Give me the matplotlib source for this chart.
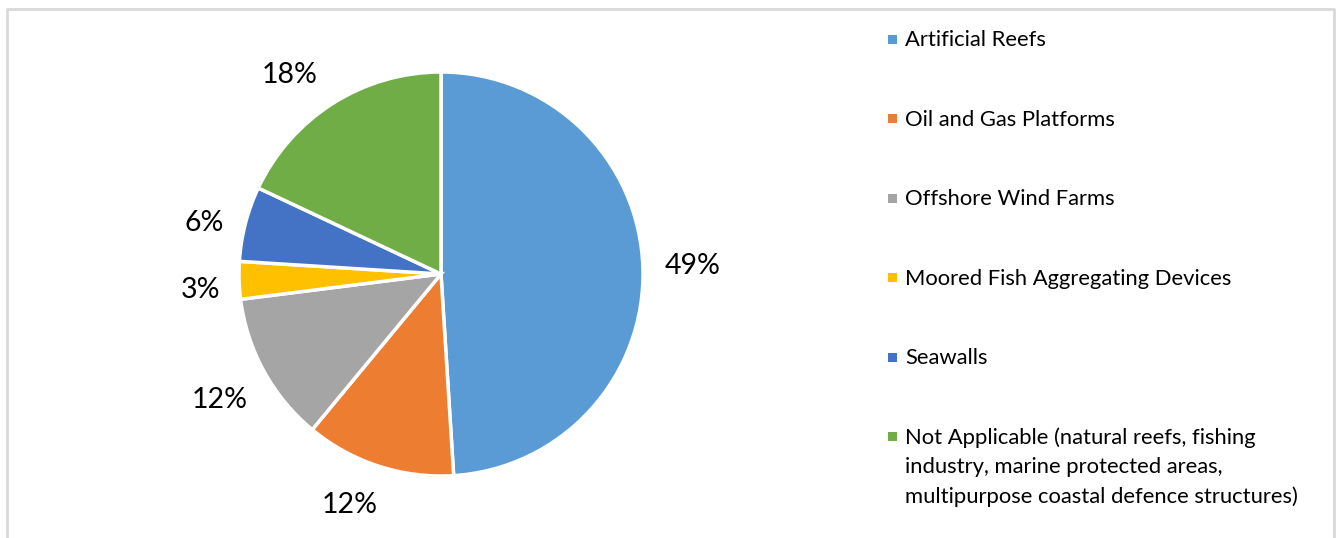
import matplotlib
matplotlib.use("Agg")
import matplotlib.pyplot as plt
from matplotlib.patches import Rectangle

labels = [
    "Artificial Reefs",
    "Oil and Gas Platforms",
    "Offshore Wind Farms",
    "Moored Fish Aggregating Devices",
    "Seawalls",
    "Not Applicable (natural reefs, fishing\nindustry, marine protected areas,\nmultipurpose coastal defence structures)",
]
shares = [49, 12, 12, 3, 6, 18]
colors = ["#5b9bd5", "#ed7d31", "#a5a5a5", "#ffc000", "#4472c4", "#70ad47"]

# pixel nudges for the outside percentage labels (right, down)
label_nudge = [(2, 0), (-14, -6), (-3, 6), (9, 8), (5, 11), (-18, 12)]

plt.rcParams["font.family"] = ["Lato", "DejaVu Sans"]

W, H = 1340, 538
fig = plt.figure(figsize=(W / 100, H / 100), dpi=100)
ax = fig.add_axes([0, 0, 1, 1])
ax.set_xlim(0, W)
ax.set_ylim(0, H)
ax.set_aspect("equal")
ax.axis("off")

# chart frame (bottom edge runs off the canvas)
ax.plot([7, 7, 1334, 1334], [0, H - 9, H - 9, 0], color="#d9d9d9", lw=2, solid_capstyle="butt")

wedges, texts = ax.pie(
    shares, colors=colors, startangle=90, counterclock=False,
    center=(441, H - 274), radius=202,
    labels=[f"{s}%" for s in shares], labeldistance=1.235,
    wedgeprops=dict(edgecolor="white", linewidth=2.5),
    textprops=dict(fontsize=20.5, color="#000000"),
)
for t, (dx, dy) in zip(texts, label_nudge):
    x, y = t.get_position()
    t.set_position((x + dx, y - dy))
    t.set_horizontalalignment("center")
    t.set_verticalalignment("center")
ax.set_xlim(0, W)
ax.set_ylim(0, H)

# legend drawn by hand, one entry per row
y0, step = 39.5, 79.4
for i, (lab, c) in enumerate(zip(labels, colors)):
    y = H - (y0 + i * step)
    ax.add_patch(Rectangle((888, y - 4.5), 9, 9, color=c, lw=0))
    ax.text(905, y + 9, lab, fontsize=15.8, va="top", ha="left",
            color="#000000", linespacing=1.55)

fig.savefig("out.png", dpi=100)
